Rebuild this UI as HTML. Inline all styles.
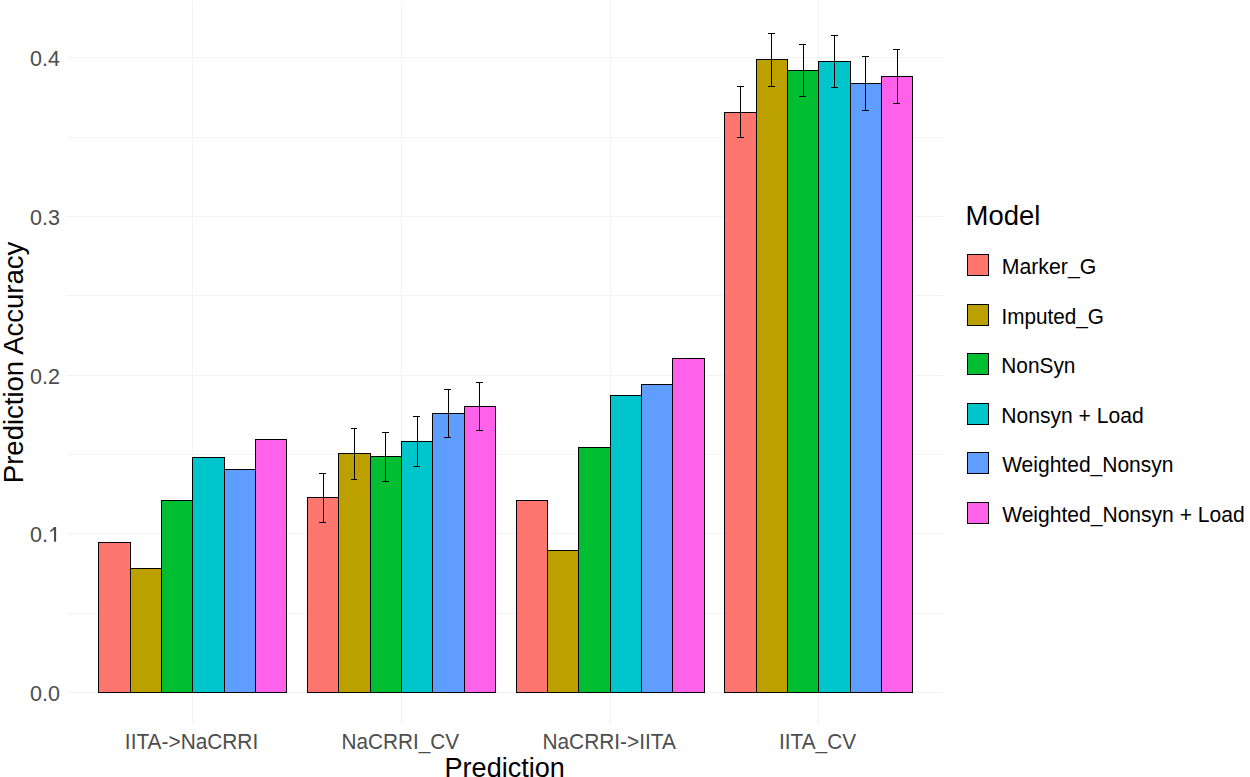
<!DOCTYPE html><html><head><meta charset="utf-8"><style>html,body{margin:0;padding:0;background:#fff;overflow:hidden;}svg{display:block;}text{font-family:"Liberation Sans",sans-serif;}</style></head><body>
<svg width="1250" height="777" viewBox="0 0 1250 777">
<rect x="0" y="0" width="1250" height="777" fill="#fff"/>
<rect x="67.4" y="137" width="876.1" height="1" fill="#F3F3F3"/>
<rect x="67.4" y="295" width="876.1" height="1" fill="#F3F3F3"/>
<rect x="67.4" y="454" width="876.1" height="1" fill="#F3F3F3"/>
<rect x="67.4" y="613" width="876.1" height="1" fill="#F3F3F3"/>
<rect x="67.4" y="57" width="876.1" height="1" fill="#F3F3F3"/>
<rect x="67.4" y="216" width="876.1" height="1" fill="#F3F3F3"/>
<rect x="67.4" y="375" width="876.1" height="1" fill="#F3F3F3"/>
<rect x="67.4" y="533" width="876.1" height="1" fill="#F3F3F3"/>
<rect x="67.4" y="692" width="876.1" height="1" fill="#F3F3F3"/>
<rect x="192" y="0.8" width="1" height="723.7" fill="#F3F3F3"/>
<rect x="401" y="0.8" width="1" height="723.7" fill="#F3F3F3"/>
<rect x="610" y="0.8" width="1" height="723.7" fill="#F3F3F3"/>
<rect x="818" y="0.8" width="1" height="723.7" fill="#F3F3F3"/>
<rect x="98.5" y="542.5" width="32" height="150" fill="#FF766E" stroke="#000" stroke-width="1"/>
<rect x="130.5" y="568.5" width="31" height="124" fill="#BBA000" stroke="#000" stroke-width="1"/>
<rect x="161.5" y="500.5" width="31" height="192" fill="#00BE32" stroke="#000" stroke-width="1"/>
<rect x="192.5" y="457.5" width="32" height="235" fill="#00C5CB" stroke="#000" stroke-width="1"/>
<rect x="224.5" y="469.5" width="31" height="223" fill="#5F9DFF" stroke="#000" stroke-width="1"/>
<rect x="255.5" y="439.5" width="31" height="253" fill="#FF61EA" stroke="#000" stroke-width="1"/>
<rect x="307.5" y="497.5" width="31" height="195" fill="#FF766E" stroke="#000" stroke-width="1"/>
<rect x="338.5" y="453.5" width="32" height="239" fill="#BBA000" stroke="#000" stroke-width="1"/>
<rect x="370.5" y="456.5" width="31" height="236" fill="#00BE32" stroke="#000" stroke-width="1"/>
<rect x="401.5" y="441.5" width="31" height="251" fill="#00C5CB" stroke="#000" stroke-width="1"/>
<rect x="432.5" y="413.5" width="32" height="279" fill="#5F9DFF" stroke="#000" stroke-width="1"/>
<rect x="464.5" y="406.5" width="31" height="286" fill="#FF61EA" stroke="#000" stroke-width="1"/>
<rect x="516.5" y="500.5" width="31" height="192" fill="#FF766E" stroke="#000" stroke-width="1"/>
<rect x="547.5" y="550.5" width="31" height="142" fill="#BBA000" stroke="#000" stroke-width="1"/>
<rect x="578.5" y="447.5" width="32" height="245" fill="#00BE32" stroke="#000" stroke-width="1"/>
<rect x="610.5" y="395.5" width="31" height="297" fill="#00C5CB" stroke="#000" stroke-width="1"/>
<rect x="641.5" y="384.5" width="31" height="308" fill="#5F9DFF" stroke="#000" stroke-width="1"/>
<rect x="672.5" y="358.5" width="32" height="334" fill="#FF61EA" stroke="#000" stroke-width="1"/>
<rect x="724.5" y="112.5" width="32" height="580" fill="#FF766E" stroke="#000" stroke-width="1"/>
<rect x="756.5" y="59.5" width="31" height="633" fill="#BBA000" stroke="#000" stroke-width="1"/>
<rect x="787.5" y="70.5" width="31" height="622" fill="#00BE32" stroke="#000" stroke-width="1"/>
<rect x="818.5" y="61.5" width="32" height="631" fill="#00C5CB" stroke="#000" stroke-width="1"/>
<rect x="850.5" y="83.5" width="31" height="609" fill="#5F9DFF" stroke="#000" stroke-width="1"/>
<rect x="881.5" y="76.5" width="31" height="616" fill="#FF61EA" stroke="#000" stroke-width="1"/>
<path d="M319 473.5H326M323.5 473V523M319 522.5H326" stroke="#000" stroke-width="1" fill="none"/>
<path d="M351 428.5H357M354.5 428V480M351 479.5H357" stroke="#000" stroke-width="1" fill="none"/>
<path d="M382 432.5H389M385.5 432V482M382 481.5H389" stroke="#000" stroke-width="1" fill="none"/>
<path d="M413 416.5H420M417.5 416V467M413 466.5H420" stroke="#000" stroke-width="1" fill="none"/>
<path d="M444 389.5H451M448.5 389V438M444 437.5H451" stroke="#000" stroke-width="1" fill="none"/>
<path d="M476 382.5H483M479.5 382V431M476 430.5H483" stroke="#000" stroke-width="1" fill="none"/>
<path d="M737 86.5H744M740.5 86V138M737 137.5H744" stroke="#000" stroke-width="1" fill="none"/>
<path d="M768 33.5H775M771.5 33V87M768 86.5H775" stroke="#000" stroke-width="1" fill="none"/>
<path d="M799 44.5H806M803.5 44V97M799 96.5H806" stroke="#000" stroke-width="1" fill="none"/>
<path d="M831 35.5H838M834.5 35V88M831 87.5H838" stroke="#000" stroke-width="1" fill="none"/>
<path d="M862 56.5H869M865.5 56V111M862 110.5H869" stroke="#000" stroke-width="1" fill="none"/>
<path d="M893 49.5H900M897.5 49V104M893 103.5H900" stroke="#000" stroke-width="1" fill="none"/>
<text x="30.1" y="701" font-size="21.5" fill="#4D4D4D">0.0</text>
<text x="30.1" y="542" font-size="21.5" fill="#4D4D4D">0.</text>
<path d="M54 527.1 H56.1 V541.8 H54 V529.8 Q52.4 531.2 50.4 531.9 L50.1 530.5 Q52.6 529.2 54 527.1 Z" fill="#4D4D4D"/>
<text x="30.1" y="384" font-size="21.5" fill="#4D4D4D">0.2</text>
<text x="30.1" y="225" font-size="21.5" fill="#4D4D4D">0.3</text>
<text x="30.1" y="66" font-size="21.5" fill="#4D4D4D">0.4</text>
<text x="124.86" y="749" font-size="21.5" fill="#4D4D4D" textLength="133.35" lengthAdjust="spacingAndGlyphs">IITA-&gt;NaCRRI</text>
<text x="341.51" y="749" font-size="21.5" fill="#4D4D4D" textLength="117.61" lengthAdjust="spacingAndGlyphs">NaCRRI_CV</text>
<text x="542.40" y="749" font-size="21.5" fill="#4D4D4D" textLength="133.57" lengthAdjust="spacingAndGlyphs">NaCRRI-&gt;IITA</text>
<text x="778.96" y="749" font-size="21.5" fill="#4D4D4D" textLength="77.19" lengthAdjust="spacingAndGlyphs">IITA_CV</text>
<text x="1001.77" y="274" font-size="21.5" fill="#000" textLength="94.49" lengthAdjust="spacingAndGlyphs">Marker_G</text>
<text x="1001.47" y="324" font-size="21.5" fill="#000" textLength="102.39" lengthAdjust="spacingAndGlyphs">Imputed_G</text>
<text x="1001.30" y="373" font-size="21.5" fill="#000" textLength="74.15" lengthAdjust="spacingAndGlyphs">NonSyn</text>
<text x="1001.28" y="423" font-size="21.5" fill="#000" textLength="142.37" lengthAdjust="spacingAndGlyphs">Nonsyn + Load</text>
<text x="1002.16" y="472" font-size="21.5" fill="#000" textLength="171.36" lengthAdjust="spacingAndGlyphs">Weighted_Nonsyn</text>
<text x="1002.16" y="522" font-size="21.5" fill="#000" textLength="242.51" lengthAdjust="spacingAndGlyphs">Weighted_Nonsyn + Load</text>
<text x="965.61" y="225" font-size="27" fill="#000" textLength="74.71" lengthAdjust="spacingAndGlyphs">Model</text>
<text x="444.55" y="777" font-size="27" fill="#000" textLength="120.29" lengthAdjust="spacingAndGlyphs">Prediction</text>
<text transform="translate(23,483.14) rotate(-90)" x="0" y="0" font-size="27" fill="#000" textLength="241.45" lengthAdjust="spacingAndGlyphs">Prediction Accuracy</text>
<rect x="967.5" y="254.5" width="21" height="21" fill="#FF766E" stroke="#000" stroke-width="1"/>
<rect x="967.5" y="304.5" width="21" height="21" fill="#BBA000" stroke="#000" stroke-width="1"/>
<rect x="967.5" y="353.5" width="21" height="21" fill="#00BE32" stroke="#000" stroke-width="1"/>
<rect x="967.5" y="403.5" width="21" height="21" fill="#00C5CB" stroke="#000" stroke-width="1"/>
<rect x="967.5" y="452.5" width="21" height="21" fill="#5F9DFF" stroke="#000" stroke-width="1"/>
<rect x="967.5" y="502.5" width="21" height="21" fill="#FF61EA" stroke="#000" stroke-width="1"/>
</svg></body></html>
